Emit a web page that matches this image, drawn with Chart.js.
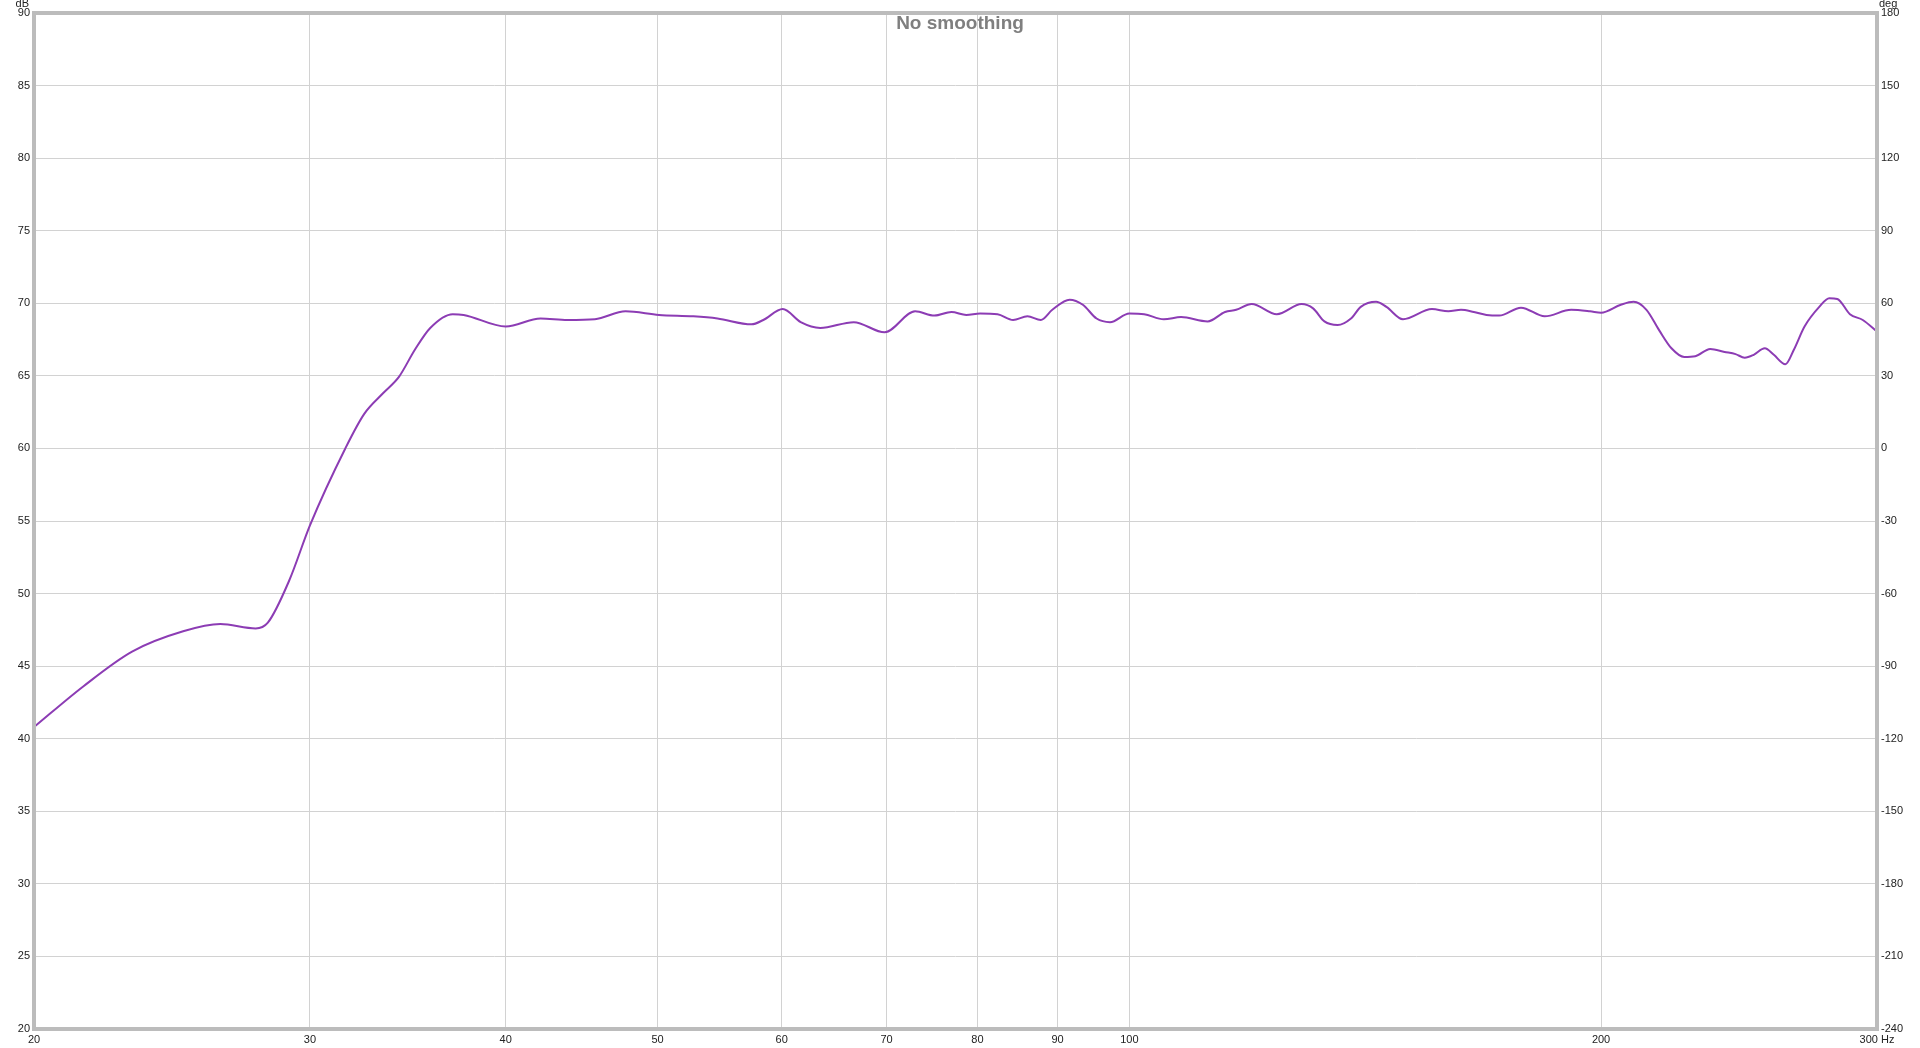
<!DOCTYPE html>
<html>
<head>
<meta charset="utf-8">
<title>No smoothing</title>
<script src="https://cdn.jsdelivr.net/npm/chart.js@4"></script>
<style>
  html, body { margin: 0; padding: 0; background: #ffffff; }
  canvas { display: block; }
</style>
</head>
<body>
<canvas id="spl-chart" width="1920" height="1048"></canvas>
<script>
const freqs = [20, 21.5, 23.1, 24.9, 26.3, 27.7, 28.2, 29.1, 30, 31.6, 32.5, 33.4, 34.2, 35.0, 35.8, 37.0, 37.6,
  40, 42.1, 43.8, 45.6, 47.7, 50.1, 52.7, 54.6, 57.4, 58.4, 60.1, 61.7, 63.5, 66.7, 69.8,
  73.0, 75.1, 77.0, 78.7, 80.3, 82.4, 84.3, 86.1, 87.8, 89.3, 91.6, 93.4, 95.3, 97.2,
  100, 102.2, 105.2, 107.9, 112.2, 115.1, 117.0, 119.7, 124.2, 128.8, 131.0, 133.2, 135.8, 138.5,
  140.5, 143.7, 145.9, 149.5, 156.0, 159.8, 162.8, 165.9, 169.0, 172.2, 177.8, 184.1, 191.4, 196.8,
  200, 205.9, 209.8, 213.8, 217.8, 221.8, 226.0, 229.7, 234.8, 239.8, 243.7, 247.0, 250.3, 254.4,
  257.8, 262.2, 265.5, 269.7, 275.6, 279.7, 283.0, 288.3, 293.8, 300];
const splDb = [40.8, 43.6, 46.0, 47.4, 47.9, 47.6, 48.0, 50.9, 54.7, 60.0, 62.4, 63.8, 64.95, 66.8, 68.3, 69.25, 69.2,
  68.4, 68.95, 68.85, 68.9, 69.45, 69.2, 69.1, 68.95, 68.55, 68.85, 69.6, 68.7, 68.3, 68.7, 68.0,
  69.45, 69.15, 69.4, 69.2, 69.3, 69.25, 68.85, 69.1, 68.85, 69.55, 70.25, 69.9, 68.95, 68.7,
  69.3, 69.25, 68.9, 69.05, 68.75, 69.4, 69.55, 69.95, 69.25, 69.95, 69.65, 68.75, 68.5, 68.95,
  69.75, 70.1, 69.75, 68.9, 69.6, 69.45, 69.55, 69.4, 69.2, 69.15, 69.7, 69.1, 69.55, 69.45,
  69.35, 69.9, 70.1, 69.55, 68.15, 66.9, 66.3, 66.35, 66.85, 66.65, 66.5, 66.25, 66.45, 66.9,
  66.45, 65.8, 66.8, 68.4, 69.75, 70.35, 70.3, 69.25, 68.85, 68.05];

const xTicks = [20, 30, 40, 50, 60, 70, 80, 90, 100, 200, 300];
const dbRange = [20, 90];
const degRange = [-240, 180];

const gridColor = '#d2d2d2';
const tickFont = { family: 'Liberation Sans, Arial, sans-serif', size: 11 };

// frame, title and unit labels
const decorations = {
  id: 'decorations',
  afterDraw(chart) {
    const { ctx, chartArea: a } = chart;
    ctx.save();
    ctx.strokeStyle = '#bcbcbc';
    ctx.lineWidth = 4;
    ctx.strokeRect(a.left, a.top, a.right - a.left, a.bottom - a.top);

    ctx.fillStyle = '#7f7f7f';
    ctx.font = 'bold 19px Liberation Sans, Arial, sans-serif';
    ctx.textAlign = 'center';
    ctx.textBaseline = 'middle';
    ctx.fillText('No smoothing', 960, 24);

    ctx.fillStyle = '#222';
    ctx.font = '11px Liberation Sans, Arial, sans-serif';
    ctx.textAlign = 'right';
    ctx.fillText('dB', 29, 4);
    ctx.textAlign = 'left';
    ctx.fillText('deg', a.right + 2, 4);
    ctx.restore();
  }
};

new Chart(document.getElementById('spl-chart').getContext('2d'), {
  type: 'line',
  data: {
    datasets: [{
      label: 'SPL',
      data: freqs.map((f, i) => ({ x: f, y: splDb[i] })),
      borderColor: '#8c3cb4',
      borderWidth: 2,
      pointRadius: 0,
      fill: false,
      cubicInterpolationMode: 'monotone',
      yAxisID: 'y'
    }]
  },
  options: {
    responsive: false,
    animation: false,
    layout: { padding: { top: 13, left: 0, right: 0, bottom: 0 } },
    plugins: { legend: { display: false }, tooltip: { enabled: false } },
    scales: {
      x: {
        type: 'logarithmic',
        min: xTicks[0],
        max: xTicks[xTicks.length - 1],
        afterBuildTicks: s => { s.ticks = xTicks.map(v => ({ value: v })); },
        afterFit: s => { s.height = 19; },
        grid: { color: gridColor, drawTicks: false },
        border: { display: false },
        ticks: {
          autoSkip: false,
          maxRotation: 0,
          padding: 4,
          color: '#222',
          font: tickFont,
          callback: v => (v === 300 ? '300 Hz' : String(v))
        }
      },
      y: {
        position: 'left',
        min: dbRange[0],
        max: dbRange[1],
        afterFit: s => { s.width = 34; },
        grid: { color: gridColor, drawTicks: false },
        border: { display: false },
        ticks: { stepSize: 5, padding: 4, color: '#222', font: tickFont }
      },
      y2: {
        position: 'right',
        min: degRange[0],
        max: degRange[1],
        afterFit: s => { s.width = 43; },
        grid: { display: false, drawTicks: false },
        border: { display: false },
        ticks: { stepSize: 30, padding: 4, color: '#222', font: tickFont }
      }
    }
  },
  plugins: [decorations]
});
</script>
</body>
</html>
